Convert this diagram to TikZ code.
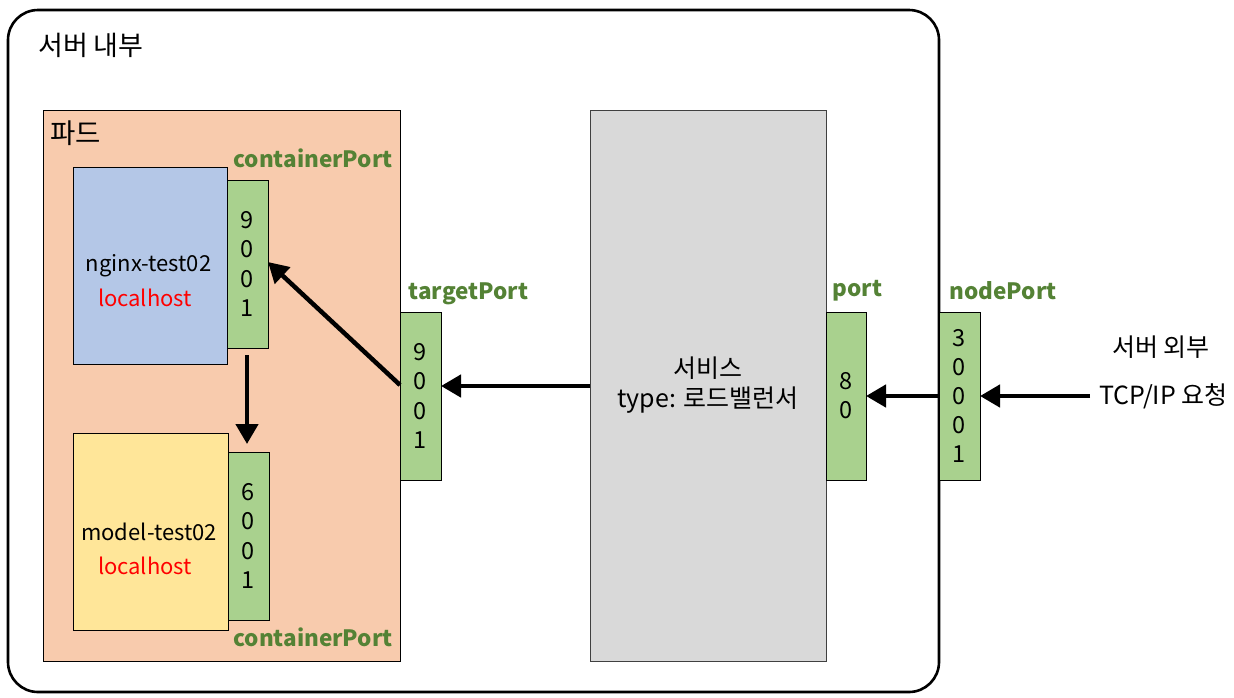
\documentclass[tikz,border=0pt]{standalone}
\usepackage{fontspec}
\setmainfont{Noto Sans CJK KR}
\usetikzlibrary{arrows.meta}
\definecolor{pgreen}{HTML}{A9D18E}
\definecolor{lgreen}{HTML}{548235}
\definecolor{podfill}{HTML}{F8CBAD}
\definecolor{bluefill}{HTML}{B4C7E7}
\definecolor{yellowfill}{HTML}{FFE699}
\definecolor{grayfill}{HTML}{D9D9D9}
\tikzset{
  box/.style={draw=black, line width=0.9pt, inner sep=0pt, outer sep=0pt},
  portbox/.style={box, fill=pgreen, minimum width=41pt, minimum height=168pt,
     align=center, font=\fontsize{23.5}{29.2}\selectfont},
  plabel/.style={text=lgreen, font=\fontsize{22.5}{26}\selectfont\bfseries, inner sep=0pt},
  txt/.style={inner sep=0pt, font=\fontsize{22}{26}\selectfont, align=center},
  ktxt/.style={inner sep=0pt, font=\fontsize{25}{30}\selectfont, align=center},
  big/.style={-{Triangle[length=20pt,width=22pt]}, line width=4.5pt},
}
\begin{document}
\begin{tikzpicture}[x=1pt,y=-1pt]
\useasboundingbox (0,0) rectangle (1234,697);
% outer frame
\draw[line width=2.6pt, rounded corners=30pt] (8,10) rectangle (939,692);
\node[anchor=west, inner sep=0pt, font=\fontsize{27}{30}\selectfont] (inside) at (38,45) {서버 내부};
% pod
\node[box, fill=podfill, minimum width=357pt, minimum height=551pt] (pod) at (221.5,385.5) {};
\node[anchor=west, inner sep=0pt, font=\fontsize{27.5}{30}\selectfont] (podlabel) at (50,133) {파드};
% containers
\node[box, fill=bluefill, minimum width=154pt, minimum height=197pt] (nginx) at (150,265.5) {};
\node[txt] (nginxname) at (148.5,266) {nginx-test02};
\node[txt, text=red] (nginxhost) at (145,298) {localhost};
\node[portbox] (cp1) at (247.5,264) {9\\0\\0\\1};
\node[box, fill=yellowfill, minimum width=155pt, minimum height=197pt] (model) at (150.5,531.5) {};
\node[txt] (modelname) at (149,532) {model-test02};
\node[txt, text=red] (modelhost) at (145,566) {localhost};
\node[portbox] (cp2) at (248.5,536) {6\\0\\0\\1};
\node[plabel] (cplabel1) at (313,158) {containerPort};
\node[plabel] (cplabel2) at (313,637) {containerPort};
% target port
\node[portbox] (tp) at (420.5,396) {9\\0\\0\\1};
\node[plabel] (tplabel) at (468.5,294) {targetPort};
% service
\node[box, draw=black!75, fill=grayfill, minimum width=236pt, minimum height=551pt] (svc) at (708,385.5) {};
\node[ktxt] (svctext) at (708,385) {서비스\\type: 로드밸런서};
\node[portbox, minimum width=40pt] (port) at (846,396) {8\\0};
\node[plabel] (portlabel) at (857.5,291) {port};
\node[portbox] (np) at (959.5,396) {3\\0\\0\\0\\1};
\node[plabel] (nplabel) at (1003,291) {nodePort};
% outside
\node[ktxt] (outside) at (1161,347) {서버 외부};
\node[ktxt, anchor=west] (req) at (1099,396) {TCP/IP 요청};
\coordinate (reqstart) at (1090,396);
% arrows
\coordinate (a1s) at (247,355);
\coordinate (a1e) at (247,444);
\draw[big] (a1s) -- (a1e);
\coordinate (tps) at (400,385);
\coordinate (cp1e) at (268,262);
\draw[big] (tps) -- (cp1e);
\coordinate (svcs) at (590,386);
\draw[big] (svcs) -- (tp.east |- svcs);
\draw[big] (np.west) -- (port.east);
\draw[big] (reqstart) -- (np.east);
\end{tikzpicture}
\end{document}
